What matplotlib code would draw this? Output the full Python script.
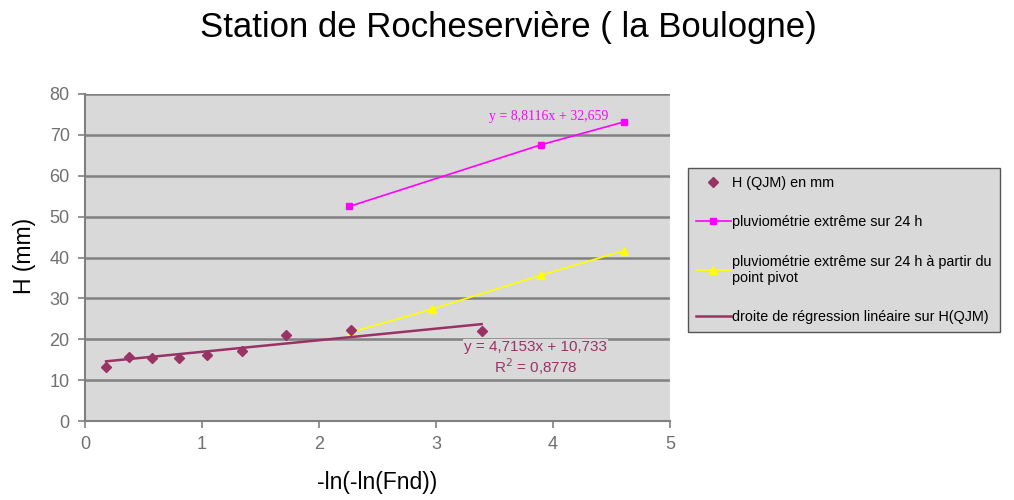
import numpy as np
import matplotlib
matplotlib.use("Agg")
import matplotlib.pyplot as plt

plt.rcParams['font.family'] = ['Liberation Sans', 'DejaVu Sans']

# H (QJM) en mm
h_x = [0.18, 0.38, 0.57, 0.80, 1.04, 1.34, 1.72, 2.27, 3.39]
h_y = [13.3, 15.7, 15.5, 15.5, 16.2, 17.2, 21.1, 22.2, 22.1]

# pluviometrie extreme sur 24 h
pluie_x = [2.26, 3.90, 4.61]
pluie_y = [52.5, 67.6, 73.2]

# a partir du point pivot
pivot_x = [2.27, 2.97, 3.90, 4.61]
pivot_y = [21.7, 27.4, 35.7, 41.7]

# droite de regression (extremites)
reg_x = [0.18, 3.39]
reg_y = [14.6, 23.7]

labels = ["H (QJM) en mm",
          "pluviométrie extrême sur 24 h",
          "pluviométrie extrême sur 24 h à partir du\npoint pivot",
          "droite de régression linéaire sur H(QJM)"]

maroon = '#993366'
grey_bg = '#D9D9D9'
grid_col = '#808080'
tick_col = '#707070'

fig = plt.figure(figsize=(10.14, 5), dpi=100)
ax = fig.add_axes([85/1014, 79/500, 585/1014, 327/500])
ax.set_facecolor(grey_bg)

l1, = ax.plot(h_x, h_y, linestyle='none', marker='D', color=maroon, markersize=5.5, zorder=5)
l2, = ax.plot(pluie_x, pluie_y, color='#FF00FF', marker='s', markersize=5, linewidth=1.2, zorder=4)
l3, = ax.plot(pivot_x, pivot_y, color='#FFFF00', marker='^', markersize=6, linewidth=1.2, zorder=4)
l4, = ax.plot(reg_x, reg_y, color=maroon, linewidth=1.8, zorder=4)

ax.set_xlim(0, 5)
ax.set_ylim(0, 80)
ax.set_xticks(range(0, 6))
ax.set_yticks(range(0, 90, 10))
ax.yaxis.grid(True, color=grid_col, linewidth=1.8)
ax.set_axisbelow(True)
for s in ['top', 'right']:
    ax.spines[s].set_visible(False)
for s in ['left', 'bottom']:
    ax.spines[s].set_color(grid_col)
    ax.spines[s].set_linewidth(1.5)
ax.tick_params(colors=grid_col, labelcolor=tick_col, labelsize=13, length=5, width=1.2, pad=6)

ax.text(3.96, 74.4, "y = 8,8116x + 32,659", color='#FF00FF', family='Liberation Serif',
        fontsize=10, ha='center', va='center')
ax.text(3.85, 18.0, "y = 4,7153x + 10,733", color=maroon, fontsize=11, ha='center', va='center',
        bbox=dict(facecolor=grey_bg, edgecolor='none', pad=1), zorder=6)
ax.text(3.85, 13.4, "R$^2$ = 0,8778", color=maroon, fontsize=11, ha='center', va='center', zorder=6)

fig.text(508/1014, 1 - 37/500, "Station de Rocheservière ( la Boulogne)", fontsize=25,
         ha='center', va='baseline')
fig.text(25/1014, 1 - 256/500, "H (mm)", fontsize=16.5, rotation=90, ha='center', va='center')
fig.text(377/1014, 1 - 483/500, "-ln(-ln(Fnd))", fontsize=16.5, ha='center', va='center')

leg = fig.legend([l1, l2, l3, l4], labels, loc='upper left',
                 bbox_to_anchor=(688/1014, 1 - 168/500), fontsize=10.4,
                 handlelength=2.4, handletextpad=0.1, labelspacing=1.75,
                 borderpad=0.55, borderaxespad=0, fancybox=False, framealpha=1)
leg.get_frame().set_facecolor(grey_bg)
leg.get_frame().set_edgecolor('#555555')
leg.get_frame().set_linewidth(1.0)

fig.savefig("out.png", dpi=100)
